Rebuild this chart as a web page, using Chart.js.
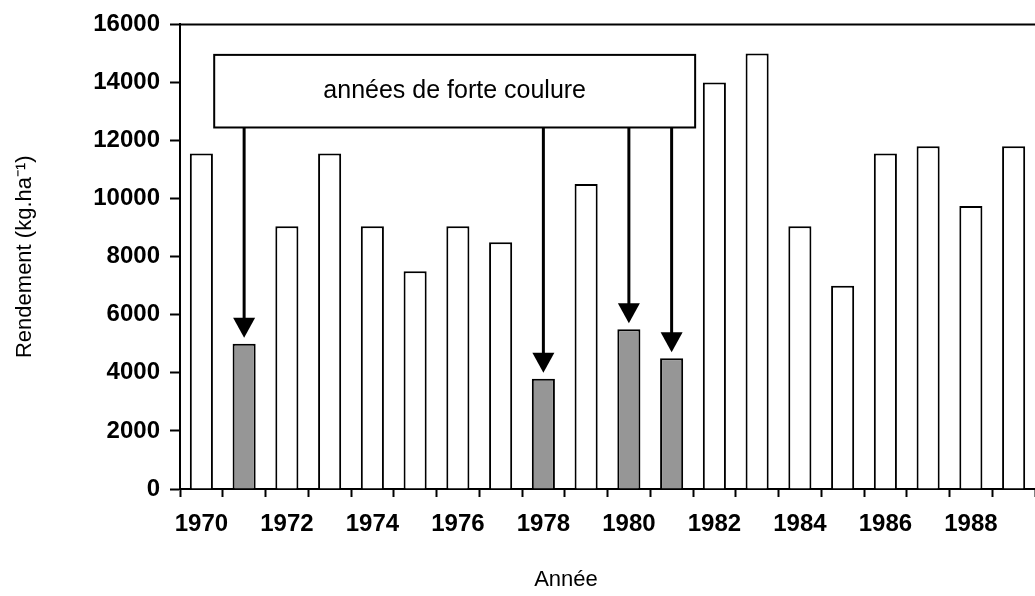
<!DOCTYPE html>
<html>
<head>
<meta charset="utf-8">
<script src="https://cdn.jsdelivr.net/npm/chart.js@4"></script>
<style>
  html, body { margin: 0; padding: 0; background: #fff; }
  canvas { display: block; }
</style>
</head>
<body>
<canvas id="chart" width="1035" height="596"></canvas>
<script>
// yields per year (kg/ha)
const years = ['1970','1971','1972','1973','1974','1975','1976','1977','1978','1979',
               '1980','1981','1982','1983','1984','1985','1986','1987','1988','1989'];
const rendement = [11550, 5000, 9050, 11550, 9050, 7500, 9050, 8500, 3800, 10500,
                   5500, 4500, 14000, 15000, 9050, 7000, 11550, 11800, 9750, 11800];
// years of heavy coulure (grey bars + arrows)
const coulureYears = ['1971', '1978', '1980', '1981'];
const yTicks = [0, 2000, 4000, 6000, 8000, 10000, 12000, 14000, 16000];
const noteText = 'années de forte coulure';
const xTitle = 'Année';

const FONT = 'Liberation Sans, Arial, sans-serif';

const barColors = years.map(y => coulureYears.includes(y) ? '#969696' : '#ffffff');

// box + arrows pointing at the coulure years
const annotationPlugin = {
    id: 'coulureNote',
    afterDatasetsDraw(chart) {
        const ctx = chart.ctx;
        const x = chart.scales.x;
        const y = chart.scales.y;
        const area = chart.chartArea;
        ctx.save();

        // top frame line
        ctx.strokeStyle = '#000';
        ctx.lineWidth = 2;
        ctx.beginPath();
        ctx.moveTo(area.left, area.top);
        ctx.lineTo(area.right, area.top);
        ctx.stroke();

        // note box, placed in data units
        const bl = x.getPixelForValue(0.3);
        const br = x.getPixelForValue(11.55);
        const bt = y.getPixelForValue(14950);
        const bb = y.getPixelForValue(12450);

        // arrows
        ctx.fillStyle = '#000';
        coulureYears.forEach(yr => {
            const i = years.indexOf(yr);
            const cx = x.getPixelForValue(i);
            const tip = y.getPixelForValue(rendement[i]) - 6;
            ctx.lineWidth = 3;
            ctx.beginPath();
            ctx.moveTo(cx, bb);
            ctx.lineTo(cx, tip - 18);
            ctx.stroke();
            ctx.beginPath();
            ctx.moveTo(cx - 11, tip - 20);
            ctx.lineTo(cx + 11, tip - 20);
            ctx.lineTo(cx, tip);
            ctx.closePath();
            ctx.fill();
        });

        ctx.fillStyle = '#fff';
        ctx.fillRect(bl, bt, br - bl, bb - bt);
        ctx.lineWidth = 2;
        ctx.strokeRect(bl, bt, br - bl, bb - bt);

        ctx.fillStyle = '#000';
        ctx.font = '25px ' + FONT;
        ctx.textAlign = 'center';
        ctx.textBaseline = 'middle';
        ctx.fillText(noteText, (bl + br) / 2, (bt + bb) / 2);

        // x axis title (the original plot is cropped on the right, so it sits left of centre)
        ctx.font = '22px ' + FONT;
        ctx.fillText(xTitle, area.left + 386, chart.height - 16);
        ctx.restore();
    }
};

const ctx = document.getElementById('chart').getContext('2d');
const myChart = new Chart(ctx, {
    type: 'bar',
    data: {
        labels: years,
        datasets: [{
            label: 'Rendement',
            data: rendement,
            backgroundColor: barColors,
            borderColor: '#000',
            borderWidth: 2,
            barPercentage: 0.54,
            categoryPercentage: 1.0
        }]
    },
    options: {
        responsive: false,
        animation: false,
        devicePixelRatio: 1,
        layout: { padding: { top: 22, right: 0, bottom: 0, left: 0 } },
        plugins: {
            legend: { display: false },
            tooltip: { enabled: false }
        },
        scales: {
            x: {
                offset: true,
                grid: {
                    offset: true,
                    drawOnChartArea: false,
                    drawTicks: true,
                    tickLength: 8,
                    tickWidth: 2,
                    tickColor: '#000'
                },
                border: { color: '#000', width: 2 },
                ticks: {
                    autoSkip: false,
                    maxRotation: 0,
                    padding: 13,
                    color: '#000',
                    font: { family: FONT, size: 24, weight: 'bold' },
                    callback: function (val, idx) {
                        return idx % 2 === 0 ? years[idx] : '';
                    }
                },
                title: { display: false },
                afterFit: scale => { scale.height = 107; }
            },
            y: {
                min: 0,
                max: 16000,
                afterBuildTicks: scale => { scale.ticks = yTicks.map(v => ({ value: v })); },
                grid: {
                    drawOnChartArea: false,
                    drawTicks: true,
                    tickLength: 10,
                    tickWidth: 2,
                    tickColor: '#000'
                },
                border: { color: '#000', width: 2 },
                ticks: {
                    padding: 10,
                    color: '#000',
                    font: { family: FONT, size: 24, weight: 'bold' },
                    callback: v => String(v)
                },
                title: {
                    display: true,
                    text: 'Rendement (kg.ha⁻¹)',
                    color: '#000',
                    font: { family: FONT, size: 22 },
                    padding: { top: 12, bottom: 0 }
                },
                afterFit: scale => { scale.width = 180; }
            }
        }
    },
    plugins: [annotationPlugin]
});
</script>
</body>
</html>
